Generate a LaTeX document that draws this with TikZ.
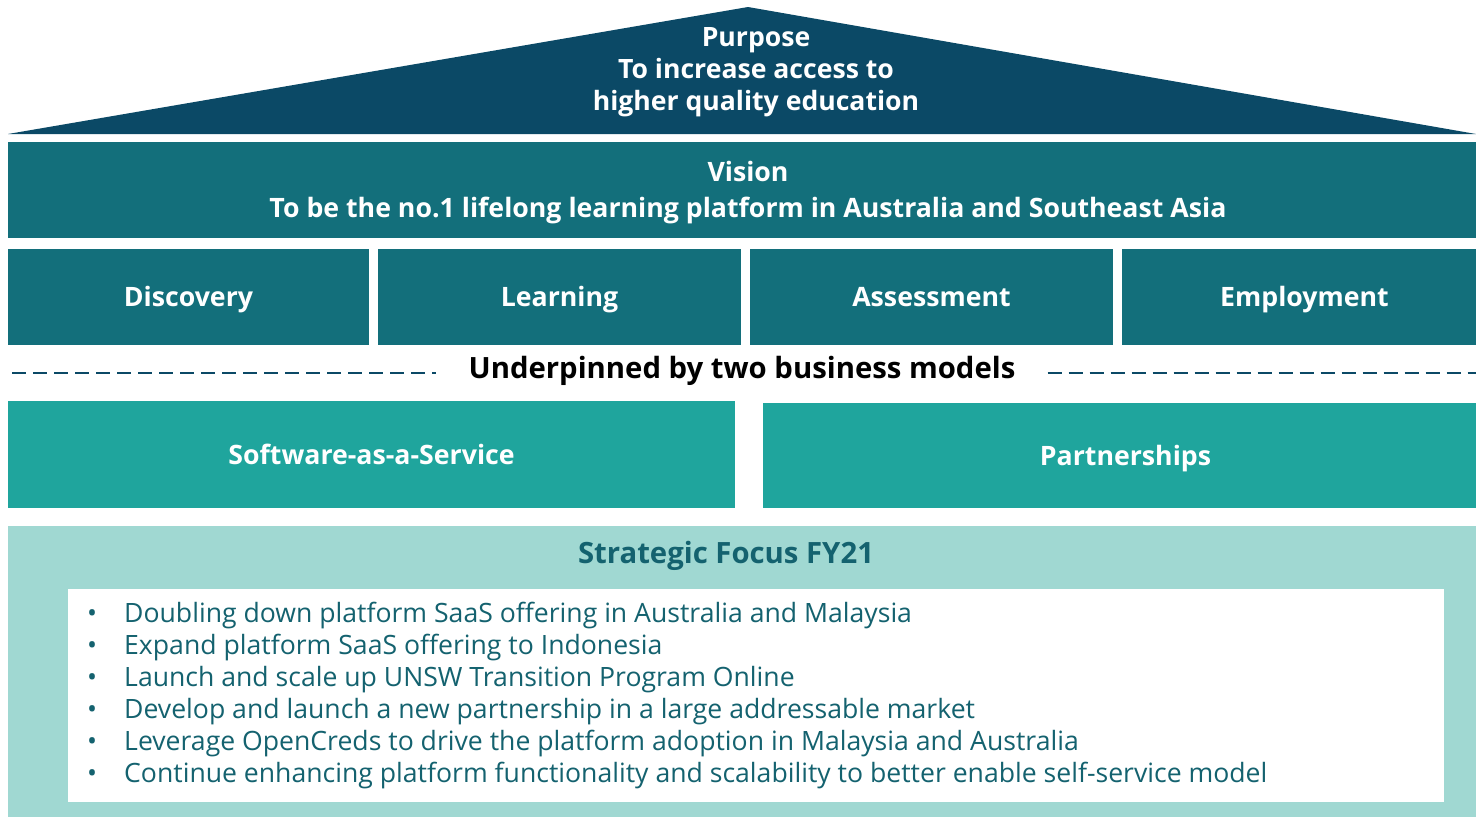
\documentclass[tikz,border=0pt]{standalone}
\usepackage{fontspec}
\setmainfont{Open Sans}
\usetikzlibrary{positioning}
\definecolor{navy}{HTML}{0B4966}
\definecolor{deepteal}{HTML}{136F7B}
\definecolor{midteal}{HTML}{1FA59D}
\definecolor{paleteal}{HTML}{A0D8D2}
\definecolor{inkteal}{HTML}{14626F}
\tikzstyle{band} = [fill=deepteal,text=white,inner sep=0pt,text height=19pt,text depth=0pt,font=\bfseries\fontsize{26.7}{32}\selectfont]
\tikzstyle{model} = [band,fill=midteal]
\tikzstyle{head} = [inner sep=0pt,text height=19pt,text depth=0pt,font=\bfseries\fontsize{26.7}{32}\selectfont]
\tikzstyle{bighead} = [head,text height=21pt,font=\bfseries\fontsize{29.3}{35}\selectfont]
\tikzstyle{item} = [inner sep=0pt,anchor=base west,text=inkteal,font=\fontsize{26.6}{32}\selectfont]
\tikzstyle{dashline} = [navy,line width=2pt,dash pattern=on 14pt off 7pt]

\begin{document}
\begin{tikzpicture}[x=1pt,y=-1pt]
        \useasboundingbox (0,0) rectangle (1476,817);

        % roof
        \fill[navy] (8,134) -- (748,7) -- (1476,134) -- cycle;
        \node[text=white,align=center,inner sep=0pt,font=\bfseries\fontsize{26.6}{32}\selectfont] (purpose) at (756,72) {Purpose\\To increase access to\\higher quality education};

        % vision
        \node[band,minimum width=1468pt,minimum height=96pt] (vision) at (742,190) {};
        \node[head,text=white] (vistitle) at (748,172) {Vision};
        \node[head,text=white] (visline) at (748,208) {To be the no.1 lifelong learning platform in Australia and Southeast Asia};

        % pillars
        \node[band,minimum width=361pt,minimum height=96pt] (disc) at (188.5,297) {Discovery};
        \node[band,minimum width=363pt,minimum height=96pt] (learn) at (559.5,297) {Learning};
        \node[band,minimum width=363pt,minimum height=96pt] (assess) at (931.5,297) {Assessment};
        \node[band,minimum width=354pt,minimum height=96pt] (employ) at (1299,297) {\hspace*{11pt}Employment};

        % divider
        \node[bighead,text=black] (under) at (742,368) {Underpinned by two business models};
        \coordinate (dl) at (12,373);
        \coordinate (dr) at (1476,373);
        \draw[dashline] (dl) -- ([xshift=-32pt]under.west |- dl);
        \draw[dashline] ([xshift=32pt]under.east |- dr) -- (dr);

        % business models
        \node[model,minimum width=727pt,minimum height=107pt] (saas) at (371.5,454.5) {Software-as-a-Service};
        \node[model,minimum width=713pt,minimum height=105pt] (partner) at (1119.5,455.5) {\hspace*{12pt}Partnerships};

        % strategic focus
        \node[fill=paleteal,minimum width=1468pt,minimum height=291pt,inner sep=0pt] (focus) at (742,671.5) {};
        \node[bighead,text=inkteal] (focustitle) at (726,553) {Strategic Focus FY21};
        \node[fill=white,minimum width=1376pt,minimum height=213pt,inner sep=0pt] (list) at (756,695.5) {};
        \foreach \txt [count=\i] in {Doubling down platform SaaS offering in Australia and Malaysia,
            Expand platform SaaS offering to Indonesia,
            Launch and scale up UNSW Transition Program Online,
            Develop and launch a new partnership in a large addressable market,
            Leverage OpenCreds to drive the platform adoption in Malaysia and Australia,
            Continue enhancing platform functionality and scalability to better enable self-service model}
        {
            \node[item,anchor=base] (dot\i) at (92,590+32*\i) {\textbullet};
            \node[item] (it\i) at (124,590+32*\i) {\txt};
        }
\end{tikzpicture}
\end{document}
